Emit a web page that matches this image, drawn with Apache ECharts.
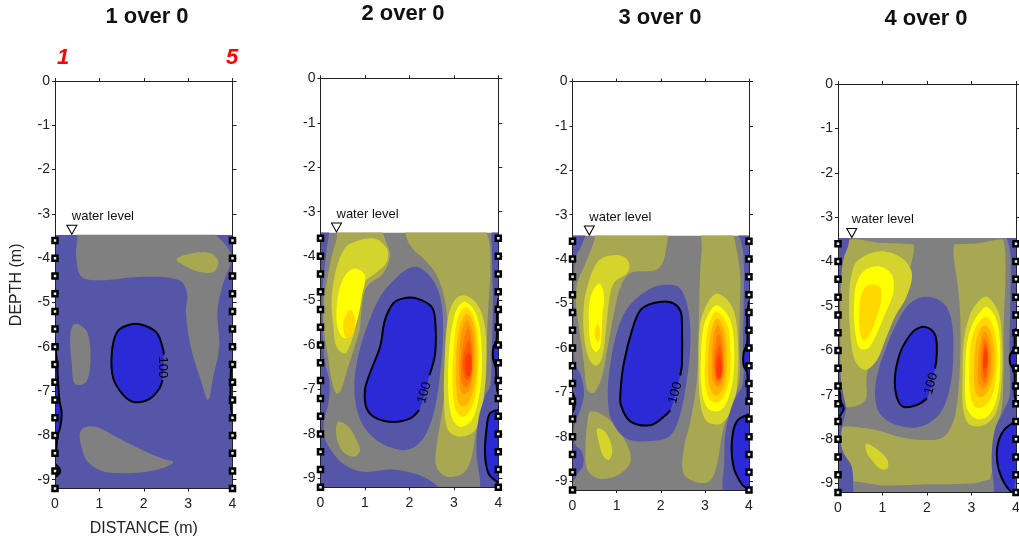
<!DOCTYPE html>
<html>
<head>
<meta charset="utf-8">
<script src="https://cdn.jsdelivr.net/npm/echarts@6/dist/echarts.min.js"></script>
<style>
  html, body { margin: 0; padding: 0; background: #fff; }
  #chart { width: 1019px; height: 542px; }
</style>
</head>
<body>
<div id="chart"></div>
<script>
// contour levels, low (blue) to high (red)
var levelColors = ['#2b2bd6', '#5556a8', '#808080', '#a9a852', '#d4d42d', '#ffff00',
                   '#ffd800', '#ffb400', '#ff9600', '#ff7800', '#ff5a00', '#ff3c00'];

var titles = ['1 over 0', '2 over 0', '3 over 0', '4 over 0'];
var xTicks = [0, 1, 2, 3, 4];
var yTicks = [0, -1, -2, -3, -4, -5, -6, -7, -8, -9];
var fieldTop = -3.47;      // water level
var fieldBottom = -9.2;
var electrodeDepths = [-3.6, -4.0, -4.4, -4.8, -5.2, -5.6, -6.0, -6.4, -6.8, -7.2, -7.6, -8.0, -8.4, -8.8, -9.2];
var waterMarkX = [0.38, 0.36, 0.38, 0.31];
var baseLevel = [1, 2, 2, 2];

// regions: [level, [[x, depth], ...]] drawn in order
var p1Regions = [
  [2, [[0.55,-3.3],[3.3,-3.3],[3.8,-3.65],[3.97,-4.0],[3.78,-4.6],[3.66,-5.2],[3.7,-6.0],[3.56,-6.7],[3.45,-7.2],[3.3,-6.8],[3.06,-6.0],[2.95,-5.2],[2.98,-4.8],[2.8,-4.5],[2.0,-4.42],[1.0,-4.5],[0.6,-4.42],[0.48,-4.0],[0.5,-3.6]]],
  [3, [[2.74,-4.03],[3.04,-3.9],[3.49,-3.88],[3.68,-4.08],[3.57,-4.31],[3.27,-4.31],[2.97,-4.19]]],
  [2, [[0.53,-5.49],[0.73,-5.68],[0.8,-6.23],[0.71,-6.78],[0.45,-6.84],[0.38,-6.38],[0.34,-5.84],[0.4,-5.52]]],
  [2, [[0.64,-7.83],[0.94,-7.81],[1.39,-8.04],[1.99,-8.34],[2.45,-8.53],[2.67,-8.6],[2.45,-8.73],[1.99,-8.83],[1.39,-8.85],[1.02,-8.79],[0.71,-8.56],[0.58,-8.19],[0.56,-7.96]]]
];
var p1Contours = [
  {level: 0, label: '100', rot: -90, pts: [[2.42,-6.75],[2.36,-6.93],[2.14,-7.17],[1.8,-7.25],[1.54,-7.09],[1.31,-6.7],[1.28,-6.15],[1.39,-5.68],[1.62,-5.52],[1.91,-5.49],[2.29,-5.68],[2.44,-6.07],[2.45,-6.18]]},
  {level: 0, pts: [[0,-5.95],[0.04,-6.3],[0.07,-6.8],[0.1,-7.2],[0.15,-7.5],[0.12,-7.8],[0.06,-8.0],[0.03,-8.3],[0,-8.5]]},
  {level: 0, pts: [[0,-8.64],[0.12,-8.8],[0,-8.95]]},
  {level: 0, pts: [[4,-6.3],[3.96,-6.6],[3.96,-7.3],[4,-7.6]]}
];

var p2Regions = [
  [1, [[-0.3,-3.3],[0.16,-3.3],[0.13,-3.9],[0.06,-4.6],[0.04,-5.4],[0.1,-6.4],[0.2,-6.8],[0.18,-7.3],[0.08,-7.7],[0.1,-8.1],[0.3,-8.45],[0.55,-8.7],[0.95,-8.85],[1.6,-8.8],[2.2,-8.92],[2.6,-9.15],[2.8,-9.4],[-0.3,-9.4]]],
  [3, [[0.44,-3.3],[1.25,-3.3],[1.49,-3.72],[1.56,-4.01],[1.41,-4.39],[1.04,-4.69],[0.93,-5.14],[0.88,-5.66],[0.72,-6.19],[0.6,-6.56],[0.46,-7.01],[0.36,-7.09],[0.25,-6.79],[0.18,-6.34],[0.08,-5.66],[0.08,-4.99],[0.15,-4.54],[0.25,-4.01],[0.36,-3.64]]],
  [4, [[0.66,-3.72],[1.19,-3.6],[1.49,-3.83],[1.49,-4.13],[1.23,-4.39],[0.96,-4.61],[0.85,-5.06],[0.79,-5.59],[0.68,-5.96],[0.55,-6.19],[0.36,-6.04],[0.29,-5.59],[0.25,-4.99],[0.33,-4.39],[0.48,-3.94]]],
  [5, [[0.78,-4.28],[1.0,-4.43],[0.93,-4.91],[0.85,-5.36],[0.74,-5.66],[0.55,-5.85],[0.4,-5.66],[0.36,-5.21],[0.44,-4.69],[0.59,-4.39]]],
  [6, [[0.68,-5.21],[0.78,-5.44],[0.74,-5.74],[0.59,-5.85],[0.51,-5.59],[0.57,-5.33]]],
  [3, [[0.40,-7.73],[0.63,-7.84],[0.81,-8.14],[0.89,-8.36],[0.78,-8.51],[0.55,-8.44],[0.40,-8.21],[0.35,-7.91]]],
  [3, [[1.94,-3.3],[3.55,-3.3],[3.78,-3.6],[3.82,-4.39],[3.78,-5.06],[3.75,-5.66],[3.72,-6.79],[3.6,-7.4],[3.48,-8.06],[3.38,-8.59],[3.2,-8.89],[2.84,-8.96],[2.61,-8.74],[2.61,-8.29],[2.73,-7.54],[2.84,-6.64],[2.86,-5.66],[2.80,-4.99],[2.6,-4.4],[2.31,-4.05],[2.09,-3.85],[1.94,-3.6]]],
  [4, [[3.21,-4.88],[3.51,-5.06],[3.7,-5.59],[3.72,-6.56],[3.64,-7.39],[3.48,-7.91],[3.14,-8.06],[2.87,-7.91],[2.78,-7.24],[2.8,-6.19],[2.86,-5.44],[2.99,-5.03]]],
  [5, [[3.25,-5.03],[3.48,-5.25],[3.6,-5.74],[3.63,-6.56],[3.55,-7.24],[3.40,-7.69],[3.14,-7.84],[2.95,-7.61],[2.87,-6.94],[2.90,-6.04],[2.99,-5.44],[3.1,-5.14]]],
  [6, [[3.29,-5.15],[3.46,-5.4],[3.55,-5.89],[3.55,-6.56],[3.48,-7.16],[3.35,-7.5],[3.18,-7.61],[3.03,-7.43],[2.97,-6.79],[3.0,-6.04],[3.06,-5.51],[3.15,-5.25]]],
  [7, [[3.3,-5.29],[3.44,-5.51],[3.5,-5.96],[3.5,-6.64],[3.42,-7.09],[3.29,-7.35],[3.14,-7.35],[3.06,-7.01],[3.05,-6.34],[3.1,-5.74],[3.2,-5.4]]],
  [8, [[3.32,-5.44],[3.42,-5.74],[3.45,-6.19],[3.42,-6.71],[3.33,-7.05],[3.2,-7.09],[3.12,-6.79],[3.12,-6.19],[3.17,-5.74],[3.25,-5.51]]],
  [9, [[3.32,-5.63],[3.4,-5.97],[3.42,-6.41],[3.38,-6.79],[3.27,-6.94],[3.17,-6.79],[3.17,-6.26],[3.23,-5.89]]],
  [10, [[3.34,-5.89],[3.4,-6.19],[3.4,-6.56],[3.33,-6.79],[3.23,-6.71],[3.2,-6.34],[3.27,-6.04]]],
  [11, [[3.36,-6.19],[3.4,-6.49],[3.35,-6.71],[3.27,-6.64],[3.25,-6.41],[3.29,-6.22]]],
  [1, [[2.2,-4.25],[2.5,-4.5],[2.7,-4.95],[2.76,-5.66],[2.7,-6.56],[2.58,-7.39],[2.38,-7.99],[2.12,-8.29],[1.79,-8.36],[1.26,-8.14],[0.9,-7.69],[0.76,-7.0],[0.86,-6.19],[1.1,-5.44],[1.35,-4.9],[1.64,-4.55],[1.94,-4.3]]],
  [1, [[4.3,-3.3],[3.9,-3.3],[3.86,-4.0],[3.88,-5.0],[3.85,-6.2],[3.82,-6.9],[3.7,-7.16],[3.55,-7.69],[3.51,-8.44],[3.59,-9.04],[3.62,-9.4],[4.3,-9.4]]]
];
var p2Contours = [
  {level: 0, label: '100', pts: [[2.22,-7.46],[2.02,-7.65],[1.64,-7.73],[1.26,-7.65],[1.04,-7.43],[1.0,-7.01],[1.11,-6.64],[1.34,-6.04],[1.45,-5.44],[1.64,-5.06],[1.86,-4.95],[2.16,-4.95],[2.5,-5.14],[2.58,-5.44],[2.58,-6.19],[2.45,-6.68]]},
  {level: 0, pts: [[4,-4.95],[3.97,-5.3],[3.96,-5.9],[3.89,-6.05],[3.88,-6.3],[3.94,-6.5],[3.97,-7.0],[4,-7.1]]},
  {level: 0, pts: [[4,-7.46],[3.81,-7.54],[3.74,-7.84],[3.70,-8.44],[3.78,-8.89],[3.96,-9.07],[4,-9.1]]}
];

var p3Regions = [
  [1, [[-0.3,-3.3],[0.3,-3.3],[0.2,-3.7],[0.06,-4.0],[0.03,-5.0],[0.05,-6.3],[0.2,-6.65],[0.26,-7.05],[0.16,-7.45],[0.04,-7.75],[0.06,-8.15],[0.22,-8.35],[0.24,-8.65],[0.1,-8.85],[0.02,-9.0],[-0.3,-9.1]]],
  [3, [[0.56,-3.3],[2.07,-3.3],[2.11,-3.84],[1.92,-4.23],[1.32,-4.31],[1.09,-4.62],[0.95,-5.17],[0.8,-5.95],[0.68,-6.6],[0.5,-7.0],[0.34,-6.96],[0.26,-6.34],[0.15,-5.56],[0.08,-5.01],[0.11,-4.54],[0.30,-4.08],[0.49,-3.6]]],
  [4, [[0.71,-3.96],[1.09,-3.92],[1.28,-4.08],[1.24,-4.31],[0.94,-4.54],[0.83,-4.93],[0.76,-5.56],[0.68,-6.18],[0.55,-6.4],[0.38,-6.26],[0.26,-5.71],[0.26,-5.01],[0.38,-4.47],[0.53,-4.12]]],
  [5, [[0.6,-4.55],[0.71,-4.78],[0.67,-5.38],[0.63,-5.98],[0.52,-6.09],[0.41,-5.9],[0.37,-5.38],[0.41,-4.85]]],
  [6, [[0.57,-5.46],[0.63,-5.68],[0.57,-5.87],[0.5,-5.68]]],
  [3, [[0.41,-7.43],[0.79,-7.58],[1.17,-8.05],[1.32,-8.52],[1.09,-8.83],[0.64,-8.95],[0.34,-8.75],[0.30,-8.13],[0.34,-7.66]]],
  [4, [[0.56,-7.82],[0.75,-7.9],[0.9,-8.29],[0.83,-8.52],[0.7,-8.44],[0.6,-8.13]]],
  [3, [[2.97,-3.3],[3.55,-3.3],[3.7,-3.7],[3.8,-4.39],[3.79,-5.17],[3.78,-5.95],[3.78,-6.73],[3.6,-7.3],[3.4,-7.9],[3.28,-8.6],[3.12,-8.99],[2.82,-9.03],[2.52,-8.83],[2.52,-8.29],[2.67,-7.66],[2.82,-6.73],[2.86,-5.56],[2.89,-4.39],[2.93,-3.76]]],
  [4, [[3.27,-4.78],[3.58,-5.01],[3.73,-5.56],[3.74,-6.73],[3.62,-7.35],[3.38,-7.7],[3.05,-7.66],[2.89,-7.19],[2.86,-6.34],[2.89,-5.48],[3.05,-5.01]]],
  [5, [[3.27,-5.04],[3.54,-5.3],[3.65,-5.76],[3.65,-6.58],[3.54,-7.11],[3.35,-7.41],[3.08,-7.37],[2.93,-6.96],[2.91,-6.21],[2.97,-5.53],[3.11,-5.19]]],
  [6, [[3.27,-5.19],[3.5,-5.45],[3.57,-5.91],[3.57,-6.58],[3.46,-7.03],[3.31,-7.22],[3.12,-7.18],[3.01,-6.81],[3.01,-6.13],[3.06,-5.6],[3.16,-5.3]]],
  [7, [[3.29,-5.34],[3.44,-5.6],[3.5,-6.06],[3.48,-6.66],[3.39,-6.96],[3.24,-7.07],[3.11,-6.88],[3.08,-6.28],[3.12,-5.76],[3.2,-5.45]]],
  [8, [[3.29,-5.49],[3.41,-5.76],[3.44,-6.21],[3.41,-6.73],[3.29,-6.88],[3.18,-6.73],[3.16,-6.21],[3.2,-5.76]]],
  [9, [[3.31,-5.68],[3.39,-5.98],[3.41,-6.43],[3.36,-6.73],[3.26,-6.77],[3.21,-6.43],[3.23,-5.98]]],
  [10, [[3.33,-5.94],[3.39,-6.21],[3.39,-6.58],[3.31,-6.73],[3.24,-6.58],[3.24,-6.21]]],
  [11, [[3.33,-6.17],[3.38,-6.39],[3.36,-6.66],[3.29,-6.67],[3.26,-6.43]]],
  [1, [[2.14,-4.58],[2.44,-4.66],[2.63,-5.17],[2.67,-5.95],[2.59,-6.73],[2.44,-7.5],[2.22,-7.97],[1.84,-8.09],[1.24,-8.05],[0.9,-7.66],[0.8,-7.12],[0.86,-6.34],[1.06,-5.48],[1.32,-5.01],[1.77,-4.66]]],
  [1, [[4.3,-3.3],[3.7,-3.3],[3.82,-3.6],[3.88,-4.0],[3.88,-5.0],[3.86,-6.0],[3.86,-6.8],[3.65,-7.2],[3.48,-7.82],[3.44,-8.52],[3.48,-9.4],[4.3,-9.4]]]
];
var p3Contours = [
  {level: 0, label: '100', pts: [[2.22,-7.4],[2.07,-7.55],[1.77,-7.74],[1.32,-7.66],[1.1,-7.3],[1.09,-6.96],[1.16,-6.36],[1.35,-5.6],[1.54,-5.15],[1.84,-4.99],[2.22,-4.97],[2.44,-5.15],[2.48,-5.45],[2.48,-6.36],[2.44,-6.62]]},
  {level: 0, pts: [[4,-4.95],[3.96,-5.3],[3.96,-5.9],[3.88,-6.1],[3.88,-6.4],[3.96,-6.55],[3.97,-7.1],[4,-7.2]]},
  {level: 0, pts: [[4,-7.5],[3.72,-7.66],[3.61,-8.13],[3.65,-8.68],[3.83,-9.06],[3.98,-9.2],[4,-9.3]]},
  {level: 0, pts: [[0,-7.0],[0.05,-7.15],[0.04,-7.35],[0,-7.45]]}
];

var p4Regions = [
  [3, [[0.17,-3.62],[1.0,-3.58],[2.0,-3.62],[3.0,-3.6],[3.85,-3.62],[3.85,-9.0],[2.0,-9.02],[0.17,-9.0]]],
  [2, [[1.75,-3.3],[2.55,-3.3],[2.6,-3.9],[2.7,-4.6],[2.75,-5.3],[2.75,-6.1],[2.7,-6.97],[2.6,-7.57],[2.37,-7.95],[1.92,-8.02],[1.39,-7.95],[0.87,-7.8],[0.34,-7.72],[-0.3,-7.68],[-0.3,-7.27],[0.34,-7.27],[0.62,-7.1],[0.64,-6.6],[0.78,-6.0],[1.04,-5.4],[1.38,-4.8],[1.6,-4.2],[1.7,-3.8]]],
  [2, [[3.74,-3.3],[4.3,-3.3],[4.3,-9.4],[3.4,-9.4],[3.48,-8.6],[3.55,-7.8],[3.68,-7.3],[3.72,-6.5],[3.72,-5.5],[3.76,-4.5],[3.76,-3.8]]],
  [2, [[0.1,-8.97],[1.0,-9.04],[2.0,-9.02],[3.0,-9.0],[3.6,-8.92],[3.6,-9.4],[0.1,-9.4]]],
  [1, [[-0.3,-3.3],[0.22,-3.3],[0.24,-3.6],[0.12,-3.95],[0.06,-4.5],[0.05,-5.5],[0.06,-6.6],[0.12,-7.0],[0.18,-7.3],[0.12,-7.6],[0.06,-8.0],[0.12,-8.3],[0.3,-8.6],[0.34,-9.0],[0.28,-9.4],[-0.3,-9.4]]],
  [1, [[4.3,-3.3],[3.78,-3.3],[3.83,-3.6],[3.88,-3.9],[3.87,-5.0],[3.85,-6.0],[3.86,-7.0],[3.7,-7.4],[3.52,-7.8],[3.45,-8.47],[3.5,-9.0],[3.55,-9.4],[4.3,-9.4]]],
  [4, [[0.46,-3.96],[0.94,-3.77],[1.43,-3.92],[1.66,-4.26],[1.54,-4.79],[1.28,-5.24],[1.06,-5.77],[0.87,-6.22],[0.61,-6.44],[0.38,-6.22],[0.27,-5.54],[0.25,-4.79],[0.31,-4.26]]],
  [5, [[0.61,-4.19],[0.94,-4.11],[1.21,-4.3],[1.24,-4.71],[1.06,-5.17],[0.91,-5.54],[0.68,-5.95],[0.49,-5.95],[0.38,-5.54],[0.36,-4.94],[0.43,-4.45]]],
  [6, [[0.68,-4.53],[0.93,-4.56],[0.97,-4.86],[0.87,-5.24],[0.72,-5.62],[0.58,-5.77],[0.49,-5.54],[0.48,-5.02],[0.55,-4.68]]],
  [4, [[0.64,-8.1],[0.91,-8.25],[1.11,-8.47],[1.11,-8.66],[0.94,-8.66],[0.76,-8.47],[0.64,-8.29]]],
  [4, [[3.34,-4.79],[3.6,-5.13],[3.68,-5.69],[3.68,-6.67],[3.57,-7.35],[3.34,-7.65],[2.97,-7.68],[2.82,-7.35],[2.8,-6.52],[2.83,-5.77],[2.95,-5.24],[3.12,-4.94]]],
  [5, [[3.34,-5.02],[3.53,-5.24],[3.63,-5.69],[3.63,-6.67],[3.53,-7.2],[3.34,-7.5],[3.08,-7.53],[2.89,-7.27],[2.86,-6.52],[2.9,-5.84],[3.03,-5.39],[3.2,-5.13]]],
  [6, [[3.33,-5.24],[3.49,-5.47],[3.57,-5.92],[3.55,-6.59],[3.45,-7.05],[3.27,-7.27],[3.08,-7.27],[2.97,-6.97],[2.95,-6.29],[3.0,-5.77],[3.12,-5.43]]],
  [7, [[3.32,-5.43],[3.45,-5.65],[3.51,-6.07],[3.48,-6.59],[3.36,-6.93],[3.19,-7.05],[3.08,-6.89],[3.06,-6.37],[3.1,-5.84],[3.19,-5.54]]],
  [8, [[3.3,-5.58],[3.42,-5.84],[3.45,-6.22],[3.4,-6.67],[3.27,-6.86],[3.15,-6.74],[3.15,-6.22],[3.21,-5.8]]],
  [9, [[3.3,-5.73],[3.39,-5.99],[3.39,-6.37],[3.32,-6.74],[3.23,-6.67],[3.21,-6.22],[3.25,-5.88]]],
  [10, [[3.31,-5.84],[3.37,-6.07],[3.36,-6.37],[3.3,-6.63],[3.25,-6.37],[3.26,-6.07]]],
  [11, [[3.31,-5.95],[3.36,-6.14],[3.33,-6.37],[3.27,-6.41],[3.27,-6.18]]],
  [1, [[1.99,-4.79],[2.37,-4.94],[2.55,-5.32],[2.59,-6.07],[2.52,-6.82],[2.29,-7.42],[1.84,-7.72],[1.32,-7.68],[0.94,-7.42],[0.83,-6.97],[0.91,-6.44],[1.09,-5.92],[1.32,-5.39],[1.62,-4.94]]]
];
var p4Contours = [
  {level: 0, label: '100', pts: [[2.0,-7.08],[1.77,-7.23],[1.47,-7.27],[1.32,-7.05],[1.28,-6.59],[1.39,-6.07],[1.54,-5.77],[1.73,-5.54],[1.96,-5.47],[2.18,-5.65],[2.22,-6.07],[2.18,-6.41]]},
  {level: 0, pts: [[4,-7.6],[3.72,-7.81],[3.58,-8.18],[3.6,-8.63],[3.75,-9.01],[3.94,-9.24]]},
  {level: 0, pts: [[4,-5.5],[3.97,-5.7],[3.96,-5.95],[3.87,-6.1],[3.87,-6.3],[3.96,-6.45],[3.97,-7.0],[4,-7.15]]},
  {level: 0, pts: [[0,-6.8],[0.05,-7.0],[0.06,-7.15],[0.13,-7.3],[0.06,-7.45],[0,-7.55]]}
];

var allRegions = [p1Regions, p2Regions, p3Regions, p4Regions];
var allContours = [p1Contours, p2Contours, p3Contours, p4Contours];

// pixel layout of the four plots
var layout = [
  {left: 55, top: 81, width: 177.5, height: 407.6, tx: 147, ty: 17},
  {left: 320.5, top: 78.3, width: 177.8, height: 409, tx: 403, ty: 14},
  {left: 572.5, top: 81.5, width: 176.5, height: 408.5, tx: 660, ty: 18},
  {left: 838, top: 84, width: 178, height: 408.5, tx: 926, ty: 19}
];

var FONT = 'Liberation Sans, Arial, sans-serif';
var SMOOTH = 0.35;

function fieldRenderer(k) {
  return function (params, api) {
    var tl = api.coord([0, fieldTop]);
    var br = api.coord([4, fieldBottom]);
    var box = {x: tl[0], y: tl[1], width: br[0] - tl[0], height: br[1] - tl[1]};
    var children = [{type: 'rect', shape: box, style: {fill: levelColors[baseLevel[k]]}}];
    allRegions[k].forEach(function (r) {
      children.push({
        type: 'polygon',
        shape: {points: r[1].map(function (p) { return api.coord(p); }), smooth: SMOOTH},
        style: {fill: levelColors[r[0]]}
      });
    });
    allContours[k].forEach(function (c) {
      var pts = c.pts.map(function (p) { return api.coord(p); });
      children.push({type: 'polygon', shape: {points: pts, smooth: SMOOTH}, style: {fill: levelColors[c.level]}});
      children.push({type: 'polyline', shape: {points: pts, smooth: SMOOTH},
        style: {stroke: '#000', lineWidth: 2, fill: null}});
      if (c.label) {
        var a = pts[pts.length - 1], b = pts[0];
        var ang = Math.atan2(-(b[1] - a[1]), b[0] - a[0]);
        if (ang > Math.PI / 2) ang -= Math.PI;
        if (ang <= -Math.PI / 2) ang += Math.PI;
        if (c.rot != null) ang = c.rot * Math.PI / 180;
        children.push({
          type: 'text', x: (a[0] + b[0]) / 2, y: (a[1] + b[1]) / 2, rotation: ang,
          style: {text: c.label, fontSize: 13, fontFamily: FONT, fill: '#000',
                  align: 'center', verticalAlign: 'middle', textAlign: 'center', textVerticalAlign: 'middle'}
        });
      }
    });
    return {type: 'group', clipPath: {type: 'rect', shape: box}, children: children};
  };
}

var grids = [], xAxes = [], yAxes = [], series = [], graphics = [];
var lineStyle = {color: '#222', width: 1};

layout.forEach(function (g, k) {
  grids.push({left: g.left, top: g.top, width: g.width, height: g.height,
              containLabel: false, outerBoundsMode: 'none', show: false});
  xAxes.push({
    type: 'value', gridIndex: k, min: 0, max: 4, interval: 1, position: 'bottom', z: 3,
    axisLine: {show: true, onZero: false, lineStyle: lineStyle},
    axisTick: {show: true, length: 3, lineStyle: lineStyle},
    axisLabel: {show: true, fontSize: 14, color: '#222', fontFamily: FONT, margin: 9},
    splitLine: {show: false},
    name: k === 0 ? 'DISTANCE (m)' : '', nameLocation: 'middle', nameGap: 32,
    nameTextStyle: {fontSize: 16, color: '#222', fontFamily: FONT}
  });
  xAxes.push({
    type: 'value', gridIndex: k, min: 0, max: 4, interval: 1, position: 'top', z: 3,
    axisLine: {show: true, onZero: false, lineStyle: lineStyle},
    axisTick: {show: true, length: 3, lineStyle: lineStyle},
    axisLabel: {show: false}, splitLine: {show: false}
  });
  yAxes.push({
    type: 'value', gridIndex: k, min: fieldBottom, max: 0, position: 'left', z: 3,
    axisLine: {show: true, onZero: false, lineStyle: lineStyle},
    axisTick: {show: true, length: 3, customValues: yTicks, lineStyle: lineStyle},
    axisLabel: {show: true, customValues: yTicks, fontSize: 14, color: '#222', fontFamily: FONT, margin: 5},
    splitLine: {show: false},
    name: k === 0 ? 'DEPTH (m)' : '', nameLocation: 'middle', nameGap: 30,
    nameTextStyle: {fontSize: 16, color: '#222', fontFamily: FONT}
  });
  yAxes.push({
    type: 'value', gridIndex: k, min: fieldBottom, max: 0, position: 'right', z: 3,
    axisLine: {show: true, onZero: false, lineStyle: lineStyle},
    axisTick: {show: true, length: 4, customValues: yTicks, lineStyle: lineStyle},
    axisLabel: {show: false}, splitLine: {show: false}
  });

  series.push({
    type: 'custom', xAxisIndex: 2 * k, yAxisIndex: 2 * k, silent: true, clip: false, z: 2,
    data: [[0, fieldTop]],
    renderItem: fieldRenderer(k)
  });

  var elec = [];
  electrodeDepths.forEach(function (d) { elec.push([0, d]); elec.push([4, d]); });
  series.push({
    type: 'scatter', xAxisIndex: 2 * k, yAxisIndex: 2 * k, silent: true, clip: false, z: 5,
    symbol: 'rect', symbolSize: 5, data: elec,
    itemStyle: {color: '#eee', borderColor: '#000', borderWidth: 2.5, opacity: 1}
  });

  series.push({
    type: 'scatter', xAxisIndex: 2 * k, yAxisIndex: 2 * k, silent: true, clip: false, z: 5,
    symbol: 'triangle', symbolRotate: 180, symbolSize: [10, 9], symbolOffset: [0, -5],
    data: [[waterMarkX[k], fieldTop]],
    itemStyle: {color: '#fff', borderColor: '#000', borderWidth: 1, opacity: 1},
    label: {show: true, formatter: 'water level', position: 'top', align: 'left', distance: 2,
            fontSize: 13, color: '#111', fontFamily: FONT}
  });

  graphics.push({
    type: 'text', x: g.tx, y: g.ty,
    style: {text: titles[k], font: 'bold 22px ' + FONT, fill: '#111',
            align: 'center', verticalAlign: 'middle', textAlign: 'center', textVerticalAlign: 'middle'}
  });
});

// electrode numbers above the first section
graphics.push({type: 'text', x: 63, y: 58,
  style: {text: '1', font: 'italic bold 22px ' + FONT, fill: '#ff0000',
          align: 'center', verticalAlign: 'middle', textAlign: 'center', textVerticalAlign: 'middle'}});
graphics.push({type: 'text', x: 232, y: 58,
  style: {text: '5', font: 'italic bold 22px ' + FONT, fill: '#ff0000',
          align: 'center', verticalAlign: 'middle', textAlign: 'center', textVerticalAlign: 'middle'}});

var chart = echarts.init(document.getElementById('chart'), null, {renderer: 'canvas'});
chart.setOption({
  animation: false,
  backgroundColor: '#fff',
  grid: grids,
  xAxis: xAxes,
  yAxis: yAxes,
  series: series,
  graphic: graphics
});
</script>
</body>
</html>
